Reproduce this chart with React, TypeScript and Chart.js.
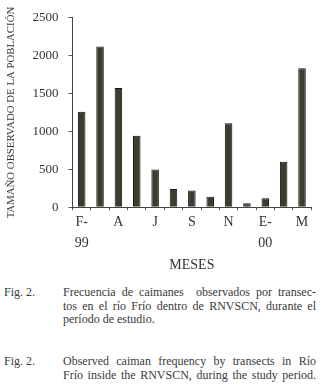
import React, { useEffect, useRef } from "react";
import { Chart, registerables } from "chart.js";

Chart.register(...registerables);

const categories = ["F-99", "M", "A", "M", "J", "J", "S", "O", "N", "D", "E-00", "F", "M"];
const tickLabels = ["F-99", "", "A", "", "J", "", "S", "", "N", "", "E-00", "", "M"];
const counts = [1260, 2120, 1575, 945, 500, 240, 220, 140, 1110, 55, 120, 600, 1835];
const yTicks = [0, 500, 1000, 1500, 2000, 2500];
const yTitle = "TAMAÑO OBSERVADO DE LA POBLACIÓN";
const xTitle = "MESES";

const captionEs = [
  "Frecuencia de caimanes  observados por transec-",
  "tos en el río Frío dentro de RNVSCN, durante el",
  "período de estudio.",
];
const captionEn = [
  "Observed caiman frequency by transects in Río",
  "Frío inside the RNVSCN, during the study period.",
];

const SERIF = "Liberation Serif, serif";

export default function App() {
  const ref = useRef<HTMLCanvasElement | null>(null);

  useEffect(() => {
    document.body.style.margin = "0";
    const canvas = ref.current;
    if (!canvas) return;
    let chart: Chart | null = null;
    let cancelled = false;
    const make = () => {
      if (cancelled) return;
      Chart.defaults.font.family = SERIF;
      chart = new Chart(canvas, {
        type: "bar",
        data: {
          labels: categories,
          datasets: [
            {
              data: counts,
              backgroundColor: "#3b3d30",
              borderColor: "#151515",
              borderWidth: 1,
              barPercentage: 0.41,
              categoryPercentage: 1,
            },
          ],
        },
        options: {
          responsive: false,
          animation: false,
          events: [],
          layout: { padding: { top: 16.5, right: 10.8, left: 0, bottom: 0 } },
          plugins: { legend: { display: false }, tooltip: { enabled: false } },
          scales: {
            x: {
              offset: true,
              grid: {
                offset: true,
                drawOnChartArea: false,
                drawTicks: true,
                tickLength: 3,
                color: "#555",
              },
              border: { display: true, color: "#444", width: 1 },
              ticks: {
                autoSkip: false,
                maxRotation: 0,
                padding: 2,
                color: "#333",
                font: { family: SERIF, size: 14, lineHeight: 1.47 },
                callback: (_v: any, i: number) => {
                  const t = tickLabels[i];
                  if (t.includes("-")) {
                    const [a, b] = t.split("-");
                    return [a + "-", b];
                  }
                  return t;
                },
              },
              title: {
                display: true,
                text: xTitle,
                color: "#333",
                font: { family: SERIF, size: 14 },
                padding: { top: 0, bottom: 6 },
              },
              afterFit: (s: any) => {
                s.height = 72.7;
              },
            },
            y: {
              min: 0,
              max: 2500,
              afterBuildTicks: (s: any) => {
                s.ticks = yTicks.map((v) => ({ value: v }));
              },
              grid: {
                drawOnChartArea: false,
                drawTicks: true,
                tickLength: 4,
                color: "#555",
              },
              border: { display: true, color: "#444", width: 1 },
              ticks: {
                padding: 10,
                color: "#333",
                font: { family: SERIF, size: 13 },
                callback: (v: any) => String(v),
              },
              title: {
                display: true,
                text: yTitle,
                color: "#333",
                font: { family: SERIF, size: 10.8 },
                padding: { top: 5, bottom: 0 },
              },
              afterFit: (s: any) => {
                s.width = 72.5;
              },
            },
          },
        },
      });
    };
    const fonts: any = (document as any).fonts;
    if (fonts && fonts.load) {
      Promise.all([
        fonts.load("13px 'Liberation Serif'"),
        fonts.load("13px 'Liberation Serif'", "ÑÓ0123456789"),
      ]).then(make, make);
    } else {
      make();
    }
    return () => {
      cancelled = true;
      if (chart) chart.destroy();
    };
  }, []);

  const lineStyle = (justify: boolean): React.CSSProperties => ({
    textAlign: justify ? "justify" : "left",
    textAlignLast: justify ? "justify" : "left",
    whiteSpace: "pre-wrap",
  });

  const textStyle: React.CSSProperties = {
    fontFamily: SERIF,
    fontSize: 12,
    color: "#3a3a3a",
    lineHeight: "13.5px",
  };

  return (
    <div style={{ position: "relative", width: 322, height: 387, background: "#fff", overflow: "hidden" }}>
      <canvas ref={ref} width={322} height={280} style={{ position: "absolute", left: 0, top: 0 }} />
      <div style={{ ...textStyle, position: "absolute", left: 4, top: 286 }}>Fig. 2.</div>
      <div style={{ ...textStyle, position: "absolute", left: 63, top: 286, width: 253 }}>
        {captionEs.map((l, i) => (
          <div key={i} style={lineStyle(i < captionEs.length - 1)}>{l}</div>
        ))}
      </div>
      <div style={{ ...textStyle, position: "absolute", left: 4, top: 354, lineHeight: "14.3px" }}>Fig. 2.</div>
      <div style={{ ...textStyle, position: "absolute", left: 63, top: 354, width: 253, lineHeight: "14.3px" }}>
        {captionEn.map((l, i) => (
          <div key={i} style={lineStyle(true)}>{l}</div>
        ))}
      </div>
    </div>
  );
}
